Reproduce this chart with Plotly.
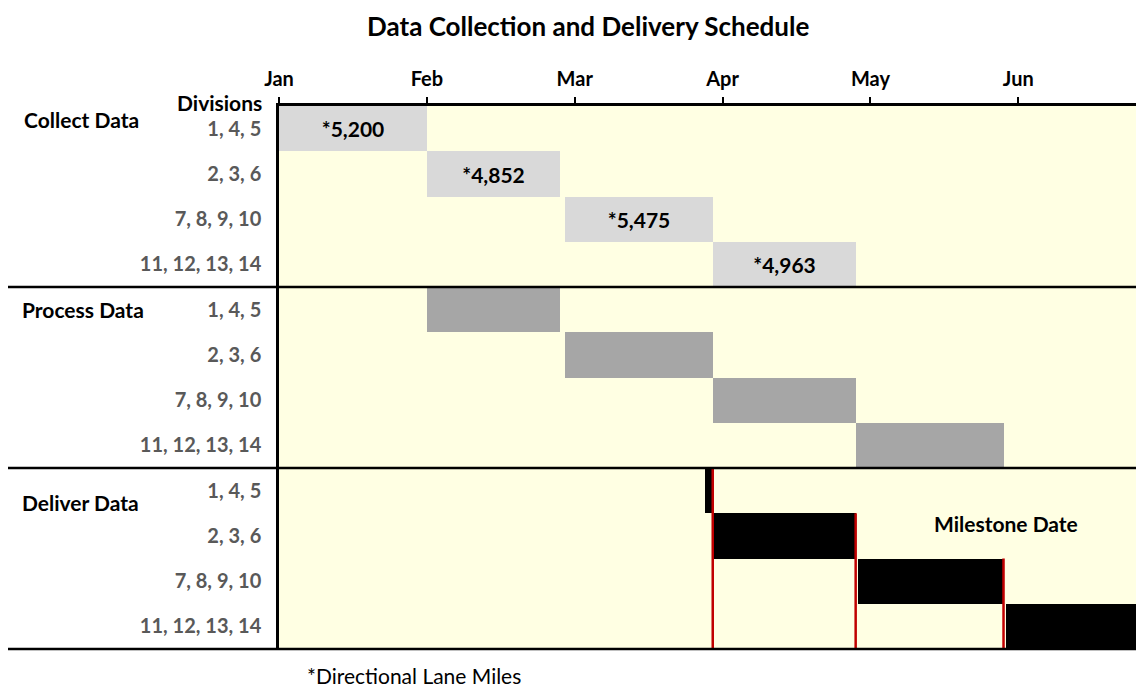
import plotly.graph_objects as go

# ---------------- data ----------------
chart_title = "Data Collection and Delivery Schedule"
months = ["Jan", "Feb", "Mar", "Apr", "May", "Jun"]
month_days = [0, 30, 60, 90, 120, 150]          # days since Jan 1 (30-day major unit)
divisions = ["1, 4, 5", "2, 3, 6", "7, 8, 9, 10", "11, 12, 13, 14"]
phases = ["Collect Data", "Process Data", "Deliver Data"]

collect_start = [0, 30, 58, 88]
collect_end = [30, 57, 88, 117]
process_start = [30, 58, 88, 117]
process_end = [57, 88, 117, 147]
deliver_start = [86.5, 88, 117.5, 147.5]
deliver_end = [88, 117, 147, 175]
lane_miles = [5200, 4852, 5475, 4963]
footnote = "*Directional Lane Miles"
milestone_label = "Milestone Date"

# ---------------- styling ----------------
FONT = "Lato"
BG = "#FFFFE3"
X_MAX = 175.3
n_div = len(divisions)
n_rows = n_div * len(phases)

fig = go.Figure()

phase_specs = [
    (collect_start, collect_end, "#D9D9D9"),
    (process_start, process_end, "#A6A6A6"),
    (deliver_start, deliver_end, "#000000"),
]
for p, (starts, ends, color) in enumerate(phase_specs):
    rows = [p * n_div + i for i in range(n_div)]
    text = ["<b>*{:,}</b>".format(v) for v in lane_miles] if p == 0 else None
    fig.add_trace(go.Bar(
        orientation="h",
        y=rows,
        base=starts,
        x=[e - s for s, e in zip(starts, ends)],
        width=1,
        marker=dict(color=color, line=dict(width=0)),
        text=text,
        textposition="inside" if text else "none",
        insidetextanchor="middle",
        textangle=0,
        textfont=dict(family=FONT, size=21, color="black"),
        hoverinfo="skip",
        showlegend=False,
    ))

# milestone red lines at the end of each delivery bar
lx, ly = [], []
for i, e in enumerate(deliver_end):
    r = 2 * n_div + i
    lx += [e, e, None]
    ly += [r - 0.5, n_rows - 0.5, None]
fig.add_trace(go.Scatter(x=lx, y=ly, mode="lines",
                         line=dict(color="#C00000", width=2.5),
                         hoverinfo="skip", showlegend=False))

# ---------------- layout ----------------
OFF = 8                      # page body margin offset
PAGE_W, PAGE_H = 1144, 687
W, H = PAGE_W - OFF, PAGE_H - OFF
# desired page-pixel plot box: left 279, right 1143, top 106, bottom 649
ML, MR, MT, MB = 279 - OFF, PAGE_W - 1143, 106 - OFF, PAGE_H - 649
plot_w = W - ML - MR
plot_h = H - MT - MB

def px_x(px):
    return (px - OFF - ML) / plot_w

def px_y(py):
    return 1 - (py - OFF - MT) / plot_h

fig.update_layout(
    width=W, height=H,
    margin=dict(l=ML, r=MR, t=MT, b=MB),
    paper_bgcolor="white",
    plot_bgcolor=BG,
    barmode="overlay",
    bargap=0,
    font=dict(family=FONT, color="black"),
    xaxis=dict(side="top", range=[0, X_MAX], tickvals=month_days,
               ticktext=["<b>" + m + "</b>" for m in months],
               tickfont=dict(family=FONT, size=20, color="black"),
               ticks="outside", ticklen=6, tickwidth=1.5, tickcolor="black",
               showline=True, linewidth=2.5, linecolor="black",
               showgrid=False, zeroline=False, ticklabelstandoff=3,
               fixedrange=True),
    yaxis=dict(range=[n_rows - 0.5, -0.5],
               tickvals=list(range(n_rows)),
               ticktext=["<b>" + d + "</b>" for d in divisions] * len(phases),
               tickfont=dict(family=FONT, size=20, color="#595959"),
               ticks="", showline=True, linewidth=2.5, linecolor="black",
               showgrid=False, zeroline=False, ticklabelstandoff=11,
               fixedrange=True),
)

# chart title as annotation (kept inside the figure box)
fig.add_annotation(text="<b>" + chart_title + "</b>", xref="paper", yref="paper",
                   x=px_x(588), y=px_y(9), xanchor="center", yanchor="top",
                   showarrow=False, borderpad=0,
                   font=dict(family=FONT, size=26, color="black"))

# section separator lines (extend left under the phase labels)
for k in range(1, len(phases) + 1):
    yp = 1 - k / len(phases)
    fig.add_shape(type="line", xref="paper", yref="paper",
                  x0=px_x(8), x1=1, y0=yp, y1=yp,
                  line=dict(color="black", width=2.5))

# phase labels
phase_pos = [(22, 119), (20, 309), (20, 502)]
for name, (x, y) in zip(phases, phase_pos):
    fig.add_annotation(text="<b>" + name + "</b>", xref="paper", yref="paper",
                       x=px_x(x), y=px_y(y), xanchor="left", yanchor="middle",
                       showarrow=False, font=dict(family=FONT, size=21, color="black"))

fig.add_annotation(text="<b>Divisions</b>", xref="paper", yref="paper",
                   x=px_x(264), y=px_y(103), xanchor="right", yanchor="middle",
                   showarrow=False, font=dict(family=FONT, size=21, color="black"))

fig.add_annotation(text="<b>" + milestone_label + "</b>", xref="x", yref="paper",
                   x=147.5, y=px_y(523), xanchor="center", yanchor="middle",
                   showarrow=False, font=dict(family=FONT, size=21, color="black"))

fig.add_annotation(text=footnote, xref="paper", yref="paper",
                   x=px_x(305), y=px_y(675), xanchor="left", yanchor="middle",
                   showarrow=False, font=dict(family=FONT, size=21, color="black"))

fig.write_html("out.html", config={"displayModeBar": False})
